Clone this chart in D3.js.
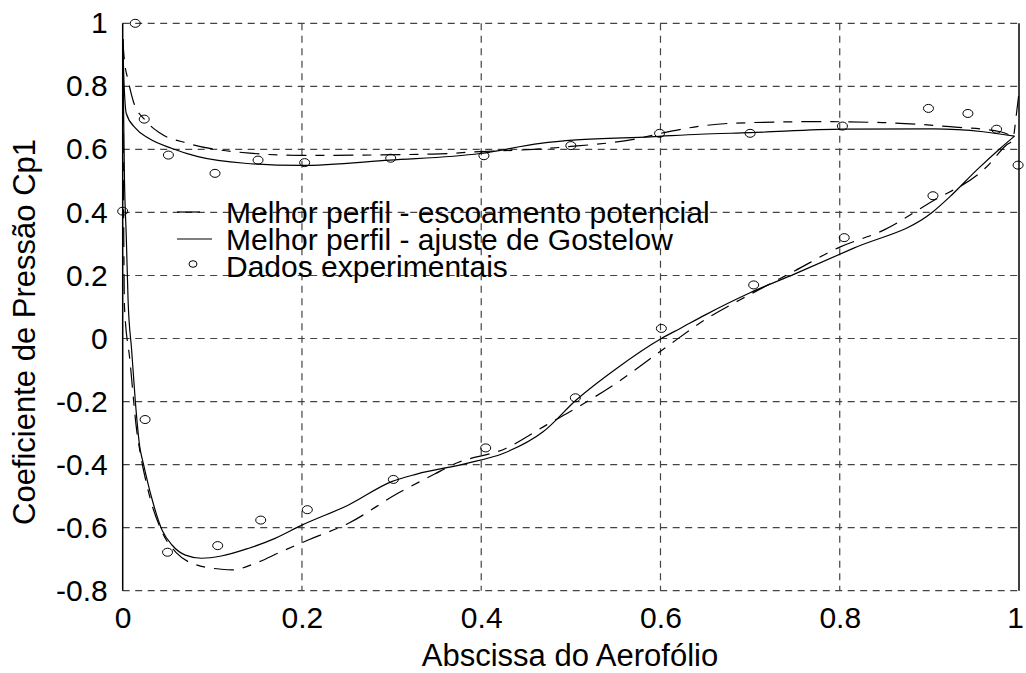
<!DOCTYPE html>
<html>
<head>
<meta charset="utf-8">
<script src="https://cdn.jsdelivr.net/npm/d3@7"></script>
<style>
body { margin: 0; background: #fff; }
text { font-family: "Liberation Sans", Arial, sans-serif; fill: #000; }
</style>
</head>
<body>
<svg id="svg" width="1026" height="673"></svg>
<script>
// Melhor perfil - ajuste de Gostelow (linha cheia)
var gostUpperX = [0.0, 0.001, 0.004, 0.014, 0.029, 0.055, 0.084, 0.136, 0.198, 0.298, 0.399, 0.466, 0.506, 0.589, 0.644, 0.7, 0.804, 0.904, 0.96, 0.995];
var gostUpperY = [0.95, 0.85, 0.714, 0.668, 0.635, 0.603, 0.577, 0.556, 0.549, 0.566, 0.587, 0.619, 0.630, 0.640, 0.648, 0.653, 0.664, 0.665, 0.656, 0.642];
var gostLowerX = [0.0, 0.002, 0.004, 0.006, 0.010, 0.014, 0.019, 0.023, 0.032, 0.044, 0.055, 0.070, 0.088, 0.11, 0.14, 0.17, 0.20, 0.252, 0.30, 0.328, 0.384, 0.425, 0.469, 0.506, 0.551, 0.601, 0.622, 0.65, 0.7, 0.75, 0.815, 0.904, 0.923, 0.953, 0.979, 0.995];
var gostLowerY = [0.95, 0.5, 0.323, 0.122, -0.037, -0.196, -0.343, -0.396, -0.502, -0.608, -0.655, -0.687, -0.697, -0.69, -0.666, -0.634, -0.592, -0.528, -0.454, -0.43, -0.396, -0.364, -0.296, -0.195, -0.095, 0.0, 0.032, 0.075, 0.145, 0.205, 0.286, 0.402, 0.45, 0.535, 0.603, 0.642];

// Melhor perfil - escoamento potencial (tracejada)
var potUpperX = [0.0, 0.002, 0.006, 0.012, 0.025, 0.042, 0.073, 0.142, 0.198, 0.346, 0.399, 0.458, 0.495, 0.57, 0.607, 0.629, 0.681, 0.774, 0.848, 0.923, 0.979, 0.994];
var potUpperY = [0.95, 0.88, 0.82, 0.751, 0.693, 0.651, 0.619, 0.588, 0.581, 0.585, 0.593, 0.600, 0.608, 0.632, 0.655, 0.667, 0.683, 0.688, 0.685, 0.672, 0.656, 0.64];
var potLowerX = [0.0, 0.001, 0.002, 0.008, 0.016, 0.019, 0.03, 0.045, 0.06, 0.077, 0.11, 0.122, 0.148, 0.177, 0.207, 0.252, 0.307, 0.348, 0.37, 0.428, 0.473, 0.51, 0.553, 0.607, 0.65, 0.7, 0.75, 0.8, 0.849, 0.9, 0.964, 0.986, 0.993, 0.997, 1.0];
var potLowerY = [0.95, 0.4, 0.10, -0.068, -0.30, -0.354, -0.5, -0.62, -0.68, -0.713, -0.732, -0.734, -0.713, -0.676, -0.639, -0.586, -0.491, -0.43, -0.398, -0.348, -0.274, -0.214, -0.137, -0.026, 0.06, 0.14, 0.215, 0.29, 0.344, 0.43, 0.545, 0.614, 0.63, 0.709, 0.78];

// Dados experimentais
var expX = [0.0, 0.014, 0.024, 0.051, 0.103, 0.151, 0.203, 0.299, 0.403, 0.50, 0.599, 0.70, 0.803, 0.899, 0.943, 0.975, 0.999, 0.025, 0.05, 0.106, 0.154, 0.206, 0.302, 0.405, 0.505, 0.601, 0.704, 0.805, 0.904];
var expY = [0.404, 1.0, 0.696, 0.582, 0.524, 0.566, 0.558, 0.572, 0.580, 0.612, 0.651, 0.651, 0.674, 0.730, 0.714, 0.664, 0.55, -0.257, -0.678, -0.657, -0.576, -0.543, -0.447, -0.347, -0.188, 0.032, 0.17, 0.32, 0.453];

var xTicks = [0, 0.2, 0.4, 0.6, 0.8, 1];
var yTicks = [-0.8, -0.6, -0.4, -0.2, 0, 0.2, 0.4, 0.6, 0.8, 1];

var legendLabels = ["Melhor perfil - escoamento potencial", "Melhor perfil - ajuste de Gostelow", "Dados experimentais"];

var svg = d3.select("#svg");
svg.append("rect").attr("width", 1026).attr("height", 673).attr("fill", "#fff");

var scaleX = d3.scaleLinear().domain([0, 1]).range([122.7, 1019]);
var scaleY = d3.scaleLinear().domain([-0.8, 1]).range([590.7, 23.3]);
var fmt = function(d) { return String(+d.toFixed(1)); };

// grade
var grid = svg.append("g");
grid.selectAll("line.h").data(yTicks).enter().append("line")
	.attr("x1", scaleX(0)).attr("x2", scaleX(1))
	.attr("y1", function(d) { return scaleY(d); }).attr("y2", function(d) { return scaleY(d); })
	.attr("stroke", "#444").attr("stroke-width", 1.2).attr("stroke-dasharray", "7,5.5");
grid.selectAll("line.v").data(xTicks.slice(1, -1)).enter().append("line")
	.attr("y1", scaleY(1)).attr("y2", scaleY(-0.8))
	.attr("x1", function(d) { return scaleX(d); }).attr("x2", function(d) { return scaleX(d); })
	.attr("stroke", "#444").attr("stroke-width", 1.2).attr("stroke-dasharray", "7,5.5");

// bordas laterais
svg.append("line").attr("x1", scaleX(0)).attr("x2", scaleX(0)).attr("y1", scaleY(1)).attr("y2", scaleY(-0.8)).attr("stroke", "#000").attr("stroke-width", 1.5);
svg.append("line").attr("x1", scaleX(1)).attr("x2", scaleX(1)).attr("y1", scaleY(1)).attr("y2", scaleY(-0.8)).attr("stroke", "#000").attr("stroke-width", 1.5);

// eixos (so rotulos)
var axisY = d3.axisLeft(scaleY).tickValues(yTicks).tickFormat(fmt).tickSize(0).tickPadding(15);
var gAxisY = svg.append("g").attr("transform", "translate(" + scaleX(0) + ",0)").call(axisY);
var axisX = d3.axisBottom(scaleX).tickValues(xTicks).tickFormat(fmt).tickSize(0).tickPadding(16);
var gAxisX = svg.append("g").attr("transform", "translate(0," + scaleY(-0.8) + ")").call(axisX);
[gAxisX, gAxisY].forEach(function(g) {
	g.select(".domain").remove();
	g.selectAll("text").style("font-size", "30px").attr("font-family", null).style("font-family", "Liberation Sans, Arial, sans-serif");
});
// o "1" da direita fica encostado na borda
gAxisX.selectAll(".tick").filter(function(d) { return d === 1; }).select("text").attr("x", -4);

// curvas
function curve(xs, ys, dash) {
	var pts = xs.map(function(x, i) { return [x, ys[i]]; });
	var line = d3.line().x(function(d) { return scaleX(d[0]); }).y(function(d) { return scaleY(d[1]); }).curve(d3.curveMonotoneX);
	svg.append("path").attr("d", line(pts)).attr("fill", "none").attr("stroke", "#000")
		.attr("stroke-width", 1.2).attr("stroke-dasharray", dash);
}
curve(potUpperX, potUpperY, "20,9,9,9");
curve(potLowerX, potLowerY, "20,9,9,9");
curve(gostUpperX, gostUpperY, null);
curve(gostLowerX, gostLowerY, null);

svg.selectAll("ellipse.exp").data(expX).enter().append("ellipse")
	.attr("cx", function(d) { return scaleX(d); })
	.attr("cy", function(d, i) { return scaleY(expY[i]); })
	.attr("rx", 5).attr("ry", 4)
	.attr("fill", "none").attr("stroke", "#000").attr("stroke-width", 1);

// legenda
svg.append("line").attr("x1", 177).attr("x2", 200).attr("y1", 212).attr("y2", 212).attr("stroke", "#000").attr("stroke-width", 1.2);
svg.append("line").attr("x1", 177).attr("x2", 212).attr("y1", 239).attr("y2", 239).attr("stroke", "#000").attr("stroke-width", 1.2);
svg.append("ellipse").attr("cx", 193).attr("cy", 264).attr("rx", 4).attr("ry", 3.3).attr("fill", "none").attr("stroke", "#000");
svg.selectAll("text.leg").data(legendLabels).enter().append("text")
	.attr("x", 226).attr("y", function(d, i) { return 212 + i * 27; })
	.attr("dy", "0.35em").style("font-size", "30px").text(function(d) { return d; });

// rotulos dos eixos
svg.append("text").attr("x", 570).attr("y", 655).attr("dy", "0.35em").attr("text-anchor", "middle")
	.style("font-size", "31px").text("Abscissa do Aerofólio");
svg.append("text").attr("transform", "translate(24,332) rotate(-90)").attr("dy", "0.35em").attr("text-anchor", "middle")
	.style("font-size", "31px").text("Coeficiente de Pressão Cp1");
</script>
</body>
</html>
